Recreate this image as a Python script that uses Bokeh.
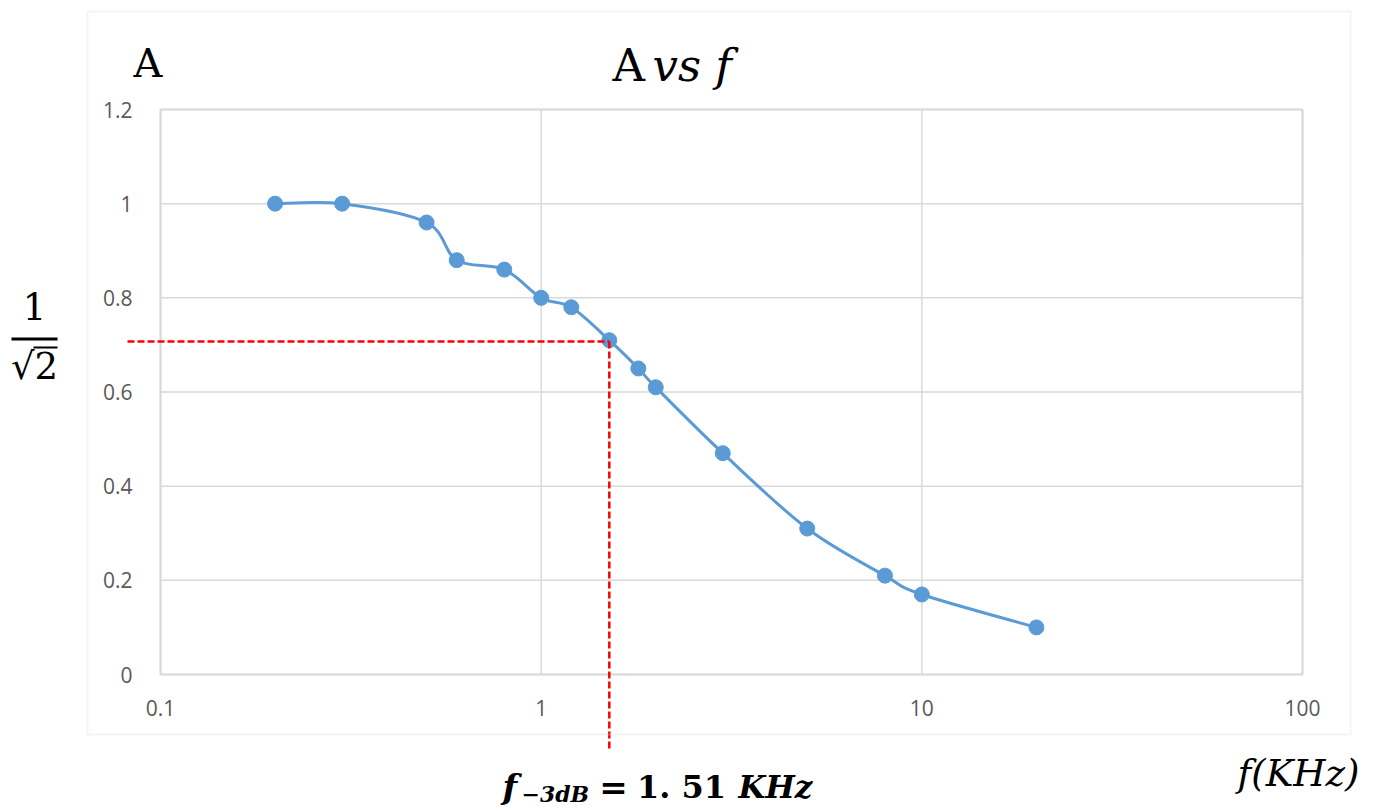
import numpy as np
from bokeh.plotting import figure
from bokeh.models import (Range1d, FixedTicker, CustomJSTickFormatter, Label,
                          Arrow, BoxAnnotation, ColumnDataSource)
from bokeh.embed import file_html
from bokeh.resources import INLINE

# ---------------- data ----------------
freq_khz = [0.2, 0.3, 0.5, 0.6, 0.8, 1.0, 1.2, 1.51, 1.8, 2.0, 3.0, 5.0, 8.0, 10.0, 20.0]
gain_a = [1.0, 1.0, 0.96, 0.88, 0.86, 0.80, 0.78, 0.71, 0.65, 0.61, 0.47, 0.31, 0.21, 0.17, 0.10]

x_ticks = [0.1, 1, 10, 100]
x_tick_labels = ["0.1", "1", "10", "100"]
y_ticks = [0, 0.2, 0.4, 0.6, 0.8, 1.0, 1.2]
y_tick_labels = ["0", "0.2", "0.4", "0.6", "0.8", "1", "1.2"]

f_3db = 1.51
a_3db = 1 / np.sqrt(2)

# ---------------- layout (pixels) ----------------
W, H = 1375, 805
PLOT_L, PLOT_R, PLOT_T, PLOT_B = 160, 1302, 109, 674   # plot area inside the canvas
X_MIN, X_MAX = x_ticks[0], x_ticks[-1]
Y_MIN, Y_MAX = y_ticks[0], y_ticks[-1]
px_per_dec = (PLOT_R - PLOT_L) / (np.log10(X_MAX) - np.log10(X_MIN))
px_per_unit = (PLOT_B - PLOT_T) / (Y_MAX - Y_MIN)
x_lo = 10 ** (np.log10(X_MIN) - PLOT_L / px_per_dec)
x_hi = 10 ** (np.log10(X_MAX) + (W - PLOT_R) / px_per_dec)
y_lo = Y_MIN - (H - PLOT_B) / px_per_unit
y_hi = Y_MAX + PLOT_T / px_per_unit

# ---------------- style ----------------
BLUE = "#5B9BD5"
GRID = "#d9d9d9"
TICK = "#595959"
SERIF = "DejaVu Serif"

p = figure(x_axis_type="log", x_range=Range1d(x_lo, x_hi), y_range=Range1d(y_lo, y_hi),
           width=W, height=H, min_border=0,
           output_backend="svg", toolbar_location=None, background_fill_color="white",
           border_fill_color="white")
p.title.visible = False
p.outline_line_color = None
p.xgrid.visible = False
p.ygrid.visible = False

fmt_js = """
const i = tv.findIndex(t => Math.abs(t - tick) <= 1e-9 * Math.max(1, Math.abs(t)));
return i >= 0 ? tl[i] : '';
"""
p.xaxis.ticker = FixedTicker(ticks=x_ticks, minor_ticks=[])
p.xaxis.formatter = CustomJSTickFormatter(args=dict(tv=x_ticks, tl=x_tick_labels), code=fmt_js)
p.yaxis.ticker = FixedTicker(ticks=y_ticks, minor_ticks=[])
p.yaxis.formatter = CustomJSTickFormatter(args=dict(tv=y_ticks, tl=y_tick_labels), code=fmt_js)
p.xaxis.fixed_location = Y_MIN
p.yaxis.fixed_location = X_MIN
p.xaxis.bounds = (X_MIN, X_MAX)
p.yaxis.bounds = (Y_MIN, Y_MAX)

for ax in (p.xaxis, p.yaxis):
    ax.axis_line_color = None
    ax.major_tick_line_color = None
    ax.minor_tick_line_color = None
    ax.major_label_text_font = "Open Sans"
    ax.major_label_text_font_size = "21px"
    ax.major_label_text_color = TICK
p.yaxis.major_label_standoff = 22
p.xaxis.major_label_standoff = 19

# ---------------- gridlines and plot-area border ----------------
p.segment(x0=[X_MIN] * len(y_ticks), y0=y_ticks, x1=[X_MAX] * len(y_ticks), y1=y_ticks,
          line_color=GRID, line_width=1.5)
p.segment(x0=x_ticks, y0=[Y_MIN] * len(x_ticks), x1=x_ticks, y1=[Y_MAX] * len(x_ticks),
          line_color=GRID, line_width=1.5)
p.quad(left=[X_MIN], right=[X_MAX], bottom=[Y_MIN], top=[Y_MAX],
       fill_color=None, line_color=GRID, line_width=2)

# ---------------- smoothed line (Excel-style Bezier through the points) ----------------
lx = np.log10(np.array(freq_khz, dtype=float))
ly = np.array(gain_a, dtype=float)
n = len(lx)
seg = dict(x0=[], y0=[], x1=[], y1=[], cx0=[], cy0=[], cx1=[], cy1=[])
for i in range(n - 1):
    i0 = max(i - 1, 0)
    i3 = min(i + 2, n - 1)
    c1x = lx[i] + (lx[i + 1] - lx[i0]) / 6
    c1y = ly[i] + (ly[i + 1] - ly[i0]) / 6
    c2x = lx[i + 1] - (lx[i3] - lx[i]) / 6
    c2y = ly[i + 1] - (ly[i3] - ly[i]) / 6
    seg["x0"].append(10 ** lx[i]); seg["y0"].append(ly[i])
    seg["x1"].append(10 ** lx[i + 1]); seg["y1"].append(ly[i + 1])
    seg["cx0"].append(10 ** c1x); seg["cy0"].append(c1y)
    seg["cx1"].append(10 ** c2x); seg["cy1"].append(c2y)

p.bezier(x0="x0", y0="y0", x1="x1", y1="y1", cx0="cx0", cy0="cy0", cx1="cx1", cy1="cy1",
         source=ColumnDataSource(seg), line_color=BLUE, line_width=3)
p.scatter(freq_khz, gain_a, size=15, marker="circle", fill_color=BLUE, line_color=BLUE)

# ---------------- -3 dB guide lines ----------------
DASH_LEFT_X = 10 ** (np.log10(X_MIN) - (PLOT_L - 127) / px_per_dec)   # starts left of plot area
DASH_BOTTOM_Y = Y_MIN - (750 - PLOT_B) / px_per_unit                 # ends below plot area
p.add_layout(Arrow(end=None, x_start=DASH_LEFT_X, y_start=a_3db, x_end=f_3db, y_end=a_3db,
                   line_color="red", line_width=2.5, line_dash="7 3"))
p.add_layout(Arrow(end=None, x_start=f_3db, y_start=a_3db, x_end=f_3db, y_end=DASH_BOTTOM_Y,
                   line_color="red", line_width=2.5, line_dash="7 3"))

# ---------------- chart-area border ----------------
def box(l, r, t, b, **kw):
    p.add_layout(BoxAnnotation(left=l, right=r, top=t, bottom=b,
                               left_units="canvas", right_units="canvas",
                               top_units="canvas", bottom_units="canvas", **kw))

box(87, 1350, 11, 734, fill_alpha=0, line_color=GRID, line_width=2)

# ---------------- texts (y = vertical centre of the glyphs) ----------------
def lab(text, x, y, size, style="normal", align="left"):
    p.add_layout(Label(x=x, y=y, x_units="canvas", y_units="canvas", text=text,
                       text_font=SERIF, text_font_size=f"{size}px", text_font_style=style,
                       text_align=align, text_baseline="middle", text_color="black"))

lab("A", 612, 65, 45)
lab("vs f", 652, 65, 45, "italic")
lab("A", 133, 62, 40)

lab("1", 34, 306, 37, align="center")
lab("√2", 34, 366, 37, align="center")
box(11, 57, 337, 340, fill_color="black", fill_alpha=1, line_color=None)
box(33, 57, 346, 348, fill_color="black", fill_alpha=1, line_color=None)

lab("f", 502, 786, 34, "bold italic")
lab("−3dB", 521, 793, 22, "bold italic")
lab("=", 613, 786, 34, "bold", "center")
lab("1. 51", 681, 786, 32, "bold", "center")
lab("KHz", 738, 786, 31, "bold italic")

lab("f(KHz)", 1298, 773, 37, "italic", "center")

open("out.html", "w").write(file_html(p, INLINE))
